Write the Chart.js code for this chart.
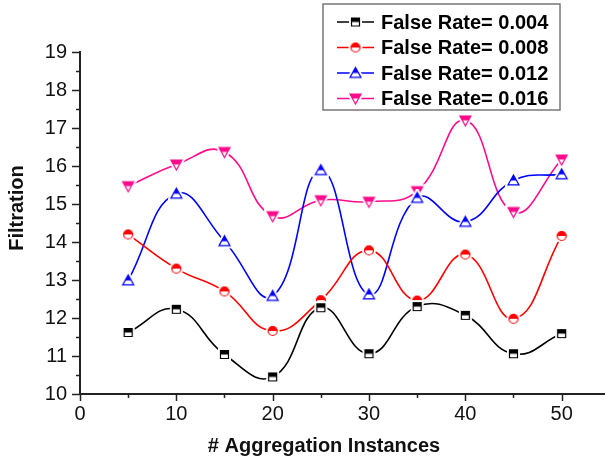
<!DOCTYPE html>
<html>
<head>
<meta charset="utf-8">
<script src="https://cdn.jsdelivr.net/npm/chart.js@4.4.1/dist/chart.umd.min.js"></script>
<style>
  html, body { margin: 0; padding: 0; background: #fff; }
  #wrap { width: 605px; height: 463px; }
</style>
</head>
<body>
<div id="wrap"><canvas id="chart"></canvas></div>
<script>
// filtration per number of aggregation instances, one series per false rate
const instances = [5, 10, 15, 20, 25, 30, 35, 40, 45, 50];
const rate004 = [11.62, 12.23, 11.04, 10.45, 12.27, 11.06, 12.30, 12.07, 11.06, 11.59];
const rate008 = [14.20, 13.30, 12.70, 11.66, 12.47, 13.78, 12.46, 13.67, 11.98, 14.16];
const rate012 = [12.99, 15.27, 14.02, 12.58, 15.89, 12.62, 15.16, 14.53, 15.62, 15.78];
const rate016 = [15.47, 16.04, 16.37, 14.68, 15.10, 15.06, 15.34, 17.20, 14.79, 16.17];
const seriesLabels = ['False Rate= 0.004', 'False Rate= 0.008', 'False Rate= 0.012', 'False Rate= 0.016'];
const xTitle = '# Aggregation Instances';
const yTitle = 'Filtration';

const FONT = "'Liberation Sans', Arial, sans-serif";

// half-filled Origin-style symbols: upper half solid, lower half hollow,
// with a white halo so the spline stops short of the symbol
function makeMarker(shape, color, size) {
    const pad = 3;
    const c = document.createElement('canvas');
    c.width = c.height = size + pad * 2;
    const ctx = c.getContext('2d');
    const cx = c.width / 2, cy = c.height / 2, r = size / 2;

    const path = () => {
        ctx.beginPath();
        if (shape === 'square') {
            ctx.rect(cx - r + 0.5, cy - r + 0.5, size - 1, size - 1);
        } else if (shape === 'circle') {
            ctx.arc(cx, cy, r - 0.5, 0, Math.PI * 2);
        } else if (shape === 'up') {
            ctx.moveTo(cx, cy - r);
            ctx.lineTo(cx + r, cy + r * 0.8);
            ctx.lineTo(cx - r, cy + r * 0.8);
            ctx.closePath();
        } else {
            ctx.moveTo(cx - r, cy - r * 0.8);
            ctx.lineTo(cx + r, cy - r * 0.8);
            ctx.lineTo(cx, cy + r);
            ctx.closePath();
        }
    };

    // halo
    path();
    ctx.lineWidth = 5;
    ctx.strokeStyle = '#fff';
    ctx.stroke();
    ctx.fillStyle = '#fff';
    ctx.fill();

    // solid upper half
    ctx.save();
    ctx.beginPath();
    ctx.rect(0, 0, c.width, cy);
    ctx.clip();
    path();
    ctx.fillStyle = color;
    ctx.fill();
    ctx.restore();

    path();
    ctx.lineWidth = 1.2;
    ctx.strokeStyle = color;
    ctx.stroke();
    return c;
}

const colors = ['#000000', '#ff0000', '#0000ff', '#ff0a8c'];
const markers = [
    makeMarker('square', colors[0], 9),
    makeMarker('circle', colors[1], 10),
    makeMarker('up', colors[2], 11),
    makeMarker('down', colors[3], 11)
];
const seriesValues = [rate004, rate008, rate012, rate016];

const datasets = seriesValues.map((vals, i) => ({
    label: seriesLabels[i],
    data: instances.map((x, j) => ({ x: x, y: vals[j] })),
    borderColor: colors[i],
    backgroundColor: colors[i],
    borderWidth: 1.6,
    tension: 0.45,
    pointStyle: markers[i],
    pointRadius: 6,
    pointHoverRadius: 6
}));

// tick marks: long on labelled values, short in between
const tickMarks = {
    id: 'tickMarks',
    afterDraw(chart) {
        const ctx = chart.ctx;
        const xs = chart.scales.x, ys = chart.scales.y;
        ctx.save();
        ctx.strokeStyle = '#222';
        ctx.lineWidth = 1.5;
        ctx.beginPath();
        ys.ticks.forEach(t => {
            const py = Math.round(ys.getPixelForValue(t.value)) + 0.5;
            const len = Number.isInteger(t.value) ? 8 : 4;
            ctx.moveTo(ys.right, py);
            ctx.lineTo(ys.right - len, py);
        });
        xs.ticks.forEach(t => {
            const px = Math.round(xs.getPixelForValue(t.value)) + 0.5;
            const len = t.value % 10 === 0 ? 7 : 4;
            ctx.moveTo(px, xs.top);
            ctx.lineTo(px, xs.top + len);
        });
        ctx.stroke();

        // axis titles
        ctx.fillStyle = '#111';
        ctx.font = 'bold 20px ' + FONT;
        ctx.textAlign = 'center';
        ctx.textBaseline = 'middle';
        ctx.fillText(xTitle, 324, 446);
        ctx.translate(17, 208);
        ctx.rotate(-Math.PI / 2);
        ctx.fillText(yTitle, 0, 0);
        ctx.restore();
    }
};

// boxed legend in the upper right corner
const boxLegend = {
    id: 'boxLegend',
    afterDraw(chart) {
        const ctx = chart.ctx;
        ctx.save();
        ctx.fillStyle = '#fff';
        ctx.fillRect(323, 4, 237, 106);
        ctx.strokeStyle = '#777';
        ctx.lineWidth = 1.5;
        ctx.strokeRect(323, 4, 237, 106);
        ctx.font = 'bold 20px ' + FONT;
        ctx.textBaseline = 'middle';
        ctx.textAlign = 'left';
        chart.data.datasets.forEach((ds, i) => {
            const y = 22 + i * 25.5;
            ctx.strokeStyle = ds.borderColor;
            ctx.lineWidth = 1.6;
            ctx.beginPath();
            ctx.moveTo(337, y);
            ctx.lineTo(374, y);
            ctx.stroke();
            const m = ds.pointStyle;
            ctx.drawImage(m, 355.5 - m.width / 2, y - m.height / 2);
            ctx.fillStyle = '#000';
            ctx.fillText(ds.label, 381, y + 1);
        });
        ctx.restore();
    }
};

new Chart(document.getElementById('chart'), {
    type: 'line',
    data: { datasets: datasets },
    options: {
        responsive: true,
        maintainAspectRatio: false,
        animation: false,
        layout: { autoPadding: false, padding: { top: 52, right: 0, bottom: 0, left: 0 } },
        plugins: {
            legend: { display: false },
            tooltip: { enabled: false }
        },
        scales: {
            x: {
                type: 'linear',
                min: 0,
                max: 54.5,
                grid: { display: false, drawTicks: false },
                border: { display: true, color: '#222', width: 2 },
                ticks: {
                    stepSize: 5,
                    includeBounds: false,
                    autoSkip: false,
                    maxRotation: 0,
                    padding: 8,
                    color: '#111',
                    font: { family: FONT, size: 20 },
                    callback: v => (v % 10 === 0 ? String(v) : '')
                },
                afterFit: s => {
                    s.height = 69;
                    s.paddingRight = 0;
                    s.paddingLeft = 0;
                }
            },
            y: {
                min: 10,
                max: 19,
                grid: { display: false, drawTicks: false },
                border: { display: true, color: '#222', width: 2 },
                ticks: {
                    stepSize: 0.5,
                    autoSkip: false,
                    padding: 13,
                    color: '#111',
                    font: { family: FONT, size: 20 },
                    callback: v => (Number.isInteger(v) ? String(v) : '')
                },
                afterFit: s => { s.width = 80; }
            }
        }
    },
    plugins: [tickMarks, boxLegend]
});
</script>
</body>
</html>
